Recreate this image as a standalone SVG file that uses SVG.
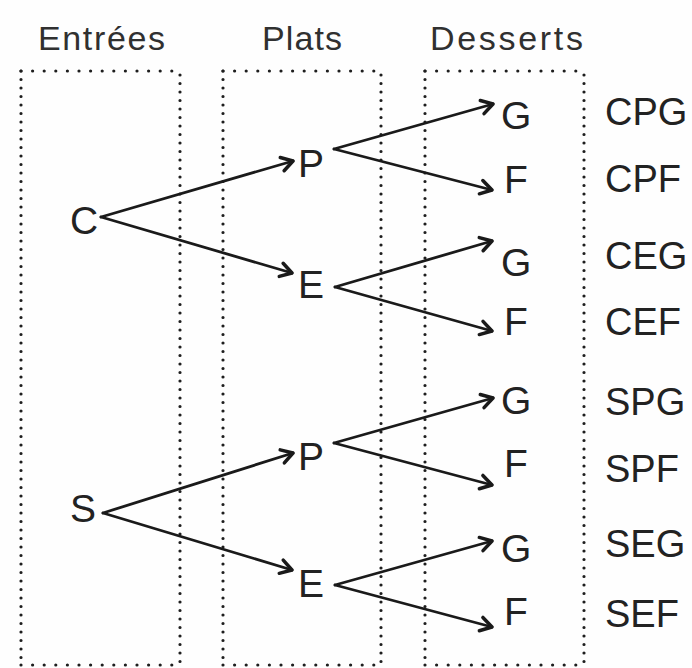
<svg xmlns="http://www.w3.org/2000/svg" width="692" height="668" viewBox="0 0 692 668">
  <defs>
    <style>
      .hdr { font-family: "Liberation Sans", Arial, sans-serif; font-size: 34px; fill: #303030; }
      .lbl { font-family: "Liberation Sans", Arial, sans-serif; font-size: 39px; fill: #222; }
      .res { font-family: "Liberation Sans", Arial, sans-serif; font-size: 38px; fill: #222; }
      .dotv { fill: none; stroke: #1e1e1e; stroke-width: 3.2; stroke-linecap: round; stroke-dasharray: 0 8.5; }
      .doth { fill: none; stroke: #1e1e1e; stroke-width: 3.2; stroke-linecap: round; stroke-dasharray: 0 11.6; }
      .edge { fill: none; stroke: #1a1a1a; stroke-width: 2.8; stroke-linecap: round; marker-end: url(#head); }
    </style>
    <marker id="head" markerUnits="userSpaceOnUse" orient="auto" refX="0" refY="0" markerWidth="20" markerHeight="20" viewBox="-12 -8 14 16" overflow="visible">
      <path d="M-9,-5.5 L0,0 L-9,5.5" fill="none" stroke="#1a1a1a" stroke-width="2.8" stroke-linecap="round" stroke-linejoin="round"/>
    </marker>
  </defs>

  <rect width="692" height="668" fill="#fefefe"/>

  <!-- column frames -->
  <g id="col-entrees">
    <text class="hdr" x="101.5" y="50" text-anchor="middle" textLength="127" lengthAdjust="spacing">Entrées</text>
    <path class="doth" d="M21,71 H180"/>
    <path class="dotv" d="M21,71 V665"/>
    <path class="dotv" d="M180,75 V665"/>
    <path class="doth" d="M21,665 H180"/>
  </g>
  <g id="col-plats">
    <text class="hdr" x="302" y="50" text-anchor="middle" textLength="80" lengthAdjust="spacing">Plats</text>
    <path class="doth" d="M223,71 H381"/>
    <path class="dotv" d="M223,71 V665"/>
    <path class="dotv" d="M381,75 V665"/>
    <path class="doth" d="M223,665 H381"/>
  </g>
  <g id="col-desserts">
    <text class="hdr" x="506.5" y="50" text-anchor="middle" textLength="153" lengthAdjust="spacing">Desserts</text>
    <path class="doth" d="M425,71 H584"/>
    <path class="dotv" d="M425,71 V665"/>
    <path class="dotv" d="M584,75 V665"/>
    <path class="doth" d="M425,665 H584"/>
  </g>

  <!-- branches -->
  <g id="connectors">
    <path class="edge" d="M101,217 L293,161"/>
    <path class="edge" d="M101,217 L292,273"/>
    <path class="edge" d="M334,149 L493,104"/>
    <path class="edge" d="M334,149 L492,190"/>
    <path class="edge" d="M335,287 L492,241"/>
    <path class="edge" d="M335,287 L492,331"/>
    <path class="edge" d="M103,513 L293,453"/>
    <path class="edge" d="M103,513 L292,570"/>
    <path class="edge" d="M334,443 L493,398"/>
    <path class="edge" d="M334,443 L492,485"/>
    <path class="edge" d="M335,585 L492,541"/>
    <path class="edge" d="M335,585 L492,627"/>
  </g>

  <!-- tree nodes -->
  <g id="node-C"><text class="lbl" x="70" y="234">C</text></g>
  <g id="node-CP"><text class="lbl" x="298" y="177">P</text></g>
  <g id="node-CE"><text class="lbl" x="298" y="298">E</text></g>
  <g id="node-S"><text class="lbl" x="70" y="522">S</text></g>
  <g id="node-SP"><text class="lbl" x="298" y="470">P</text></g>
  <g id="node-SE"><text class="lbl" x="298" y="597">E</text></g>

  <g id="node-CPG"><text class="lbl" x="501" y="129">G</text></g>
  <g id="node-CPF"><text class="lbl" x="504" y="193">F</text></g>
  <g id="node-CEG"><text class="lbl" x="501" y="276">G</text></g>
  <g id="node-CEF"><text class="lbl" x="504" y="335">F</text></g>
  <g id="node-SPG"><text class="lbl" x="501" y="414">G</text></g>
  <g id="node-SPF"><text class="lbl" x="504" y="477">F</text></g>
  <g id="node-SEG"><text class="lbl" x="501" y="562">G</text></g>
  <g id="node-SEF"><text class="lbl" x="504" y="625">F</text></g>

  <!-- outcomes -->
  <g id="outcomes">
    <text class="res" x="605" y="125">CPG</text>
    <text class="res" x="605" y="192">CPF</text>
    <text class="res" x="605" y="269">CEG</text>
    <text class="res" x="605" y="335">CEF</text>
    <text class="res" x="605" y="415">SPG</text>
    <text class="res" x="605" y="482">SPF</text>
    <text class="res" x="605" y="557">SEG</text>
    <text class="res" x="605" y="627">SEF</text>
  </g>
</svg>
